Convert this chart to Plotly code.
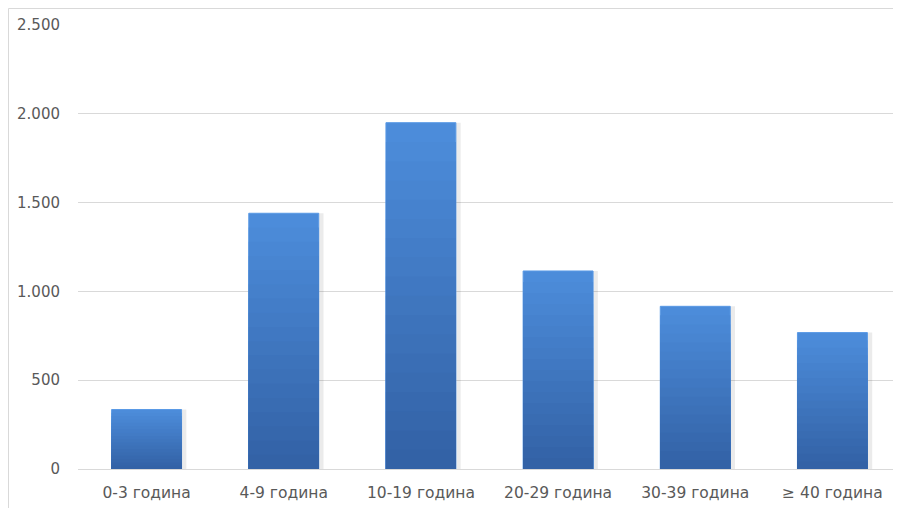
import plotly.graph_objects as go

categories = ["0-3 година", "4-9 година", "10-19 година", "20-29 година", "30-39 година", "≥ 40 година"]
values = [335, 1440, 1950, 1115, 916, 768]
y_ticks = [0, 500, 1000, 1500, 2000, 2500]
y_tick_labels = ["0", "500", "1.000", "1.500", "2.000", "2.500"]

# page body has an 8px margin, so the figure sits at (8, 8)
W, H = 893, 500
ml, mr, mt, mb = 70, 0, 17, 39
pw, ph = W - ml - mr, H - mt - mb

TOP = (0x4c, 0x8c, 0xda)
BOT = (0x33, 0x62, 0xa6)
N = 18

fig = go.Figure()
# soft shadow behind bars
fig.add_trace(go.Bar(
    x=categories, y=values, width=0.545, offset=-0.255,
    marker=dict(color="rgba(0,0,0,0.08)", line=dict(width=0)),
    hoverinfo="skip", showlegend=False,
))
# vertical gradient: each layer is a scaled copy of the bar, darker toward the base
for k in range(N):
    f = 1 - k / N
    t = k / (N - 1)
    c = tuple(round(TOP[i] + (BOT[i] - TOP[i]) * t) for i in range(3))
    fig.add_trace(go.Bar(
        x=categories, y=[v * f for v in values], width=0.51,
        marker=dict(color="rgb(%d,%d,%d)" % c,
                    line=dict(color="#5a9ae6" if k == 0 else "rgb(%d,%d,%d)" % c,
                              width=1 if k == 0 else 0)),
        showlegend=False,
        hoverinfo="x+y" if k == 0 else "skip",
    ))

fig.update_layout(
    width=W, height=H,
    margin=dict(l=ml, r=mr, t=mt, b=mb, pad=0),
    paper_bgcolor="white", plot_bgcolor="white",
    barmode="overlay",
    bargap=0.49,
    font=dict(family="DejaVu Sans, Verdana, sans-serif", size=15, color="#595959"),
    xaxis=dict(
        showgrid=False, showline=True, linecolor="#d9d9d9", linewidth=1,
        ticks="", tickfont=dict(size=15.5, color="#595959"),
        ticklabelstandoff=9,
        fixedrange=True,
    ),
    yaxis=dict(
        range=[0, 2500], tickvals=y_ticks, ticktext=y_tick_labels,
        showgrid=True, gridcolor="#d9d9d9", gridwidth=1,
        zeroline=False, showline=False, ticks="",
        ticklabelstandoff=17,
        tickfont=dict(size=15, color="#595959"),
        fixedrange=True,
    ),
    shapes=[dict(
        type="rect", xref="paper", yref="paper",
        x0=(0.5 - ml) / pw, x1=1.05,
        y0=-0.2, y1=(H - mb - 0.5) / ph,
        line=dict(color="#d9d9d9", width=1), layer="below",
    )],
)

fig.write_html("out.html")
